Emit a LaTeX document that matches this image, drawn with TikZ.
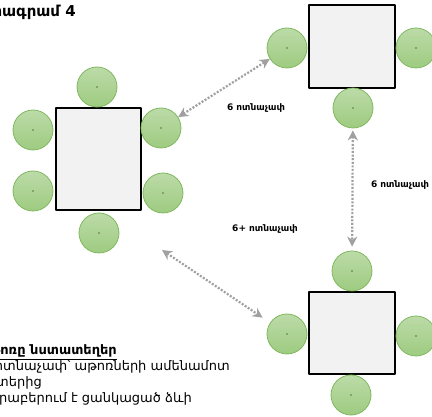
\documentclass[tikz,border=0pt]{standalone}
\usepackage{fontspec}
\setmainfont{DejaVu Sans}
\usetikzlibrary{arrows.meta}
\definecolor{chairtop}{RGB}{188,219,168}
\definecolor{chairbot}{RGB}{158,203,128}
\definecolor{chairline}{RGB}{128,184,96}
\definecolor{tablegray}{RGB}{242,242,242}
\definecolor{gapgray}{RGB}{160,160,160}
\begin{document}
\begin{tikzpicture}[x=1pt, y=-1pt, line join=round,
	tablebox/.style={draw=black, line width=1.5pt, fill=tablegray, inner sep=0pt},
	chair/.style={circle, draw=chairline, line width=0.8pt, top color=chairtop, bottom color=chairbot,
		minimum size=40pt, inner sep=0pt,
		path picture={\fill[black] (path picture bounding box.center) circle (0.6pt);}},
	gap/.style={draw=gapgray, line width=2.2pt, dash pattern=on 2pt off 1.6pt,
		{Stealth[length=10pt,width=10pt]}-{Stealth[length=10pt,width=10pt]}},
	feet/.style={font=\bfseries\fontsize{9}{10}\selectfont, inner sep=0pt},
	memo/.style={anchor=base east, inner sep=0pt, font=\fontsize{13}{15}\selectfont}]
	\useasboundingbox (0,0) rectangle (432,417);
	% tables
	\node[tablebox, minimum width=85pt, minimum height=102pt] (t1) at (98.5,159) {};
	\node[tablebox, minimum width=86pt, minimum height=83pt] (t2) at (352,46.5) {};
	\node[tablebox, minimum width=86pt, minimum height=82pt] (t3) at (352,333) {};
	% chairs
	\node[chair] (t1t) at (97,87) {};
	\node[chair] (t1lu) at (33,130) {};
	\node[chair] (t1ll) at (33,191) {};
	\node[chair] (t1ru) at (161,128) {};
	\node[chair] (t1rl) at (163,193) {};
	\node[chair] (t1b) at (99,233) {};
	\node[chair] (t2l) at (287,48) {};
	\node[chair] (t2r) at (416,48) {};
	\node[chair] (t2b) at (353,108) {};
	\node[chair] (t3t) at (352,271) {};
	\node[chair] (t3l) at (287,334) {};
	\node[chair] (t3r) at (416,336) {};
	\node[chair] (t3b) at (351,395) {};
	% distances
	\coordinate (g3) at (162,250);
	\draw[gap] (t1ru) -- (t2l);
	\draw[gap, shorten <=2pt, shorten >=4pt] (t2b) -- (t3t);
	\draw[gap, shorten >=9pt] (g3) -- (t3l);
	\node[feet] (d1) at (256,108) {6 ոտնաչափ};
	\node[feet] (d2) at (400,185) {6 ոտնաչափ};
	\node[feet] (d3) at (265,229) {6+ ոտնաչափ};
	% texts
	\node[anchor=base east, inner sep=0pt, font=\bfseries\fontsize{15}{17}\selectfont] (title) at (76,17) {Դիագրամ 4};
	\node[memo, font=\bfseries\fontsize{13}{15}\selectfont] (m1) at (117,355) {\underline{Աթոռը նստատեղեր}};
	\node[memo] (m2) at (230,371) {6 ոտնաչափ՝ աթոռների ամենամոտ};
	\node[memo] (m3) at (42,387) {կետերից};
	\node[memo] (m4) at (192,403) {Վերաբերում է ցանկացած ձևի};
\end{tikzpicture}
\end{document}
